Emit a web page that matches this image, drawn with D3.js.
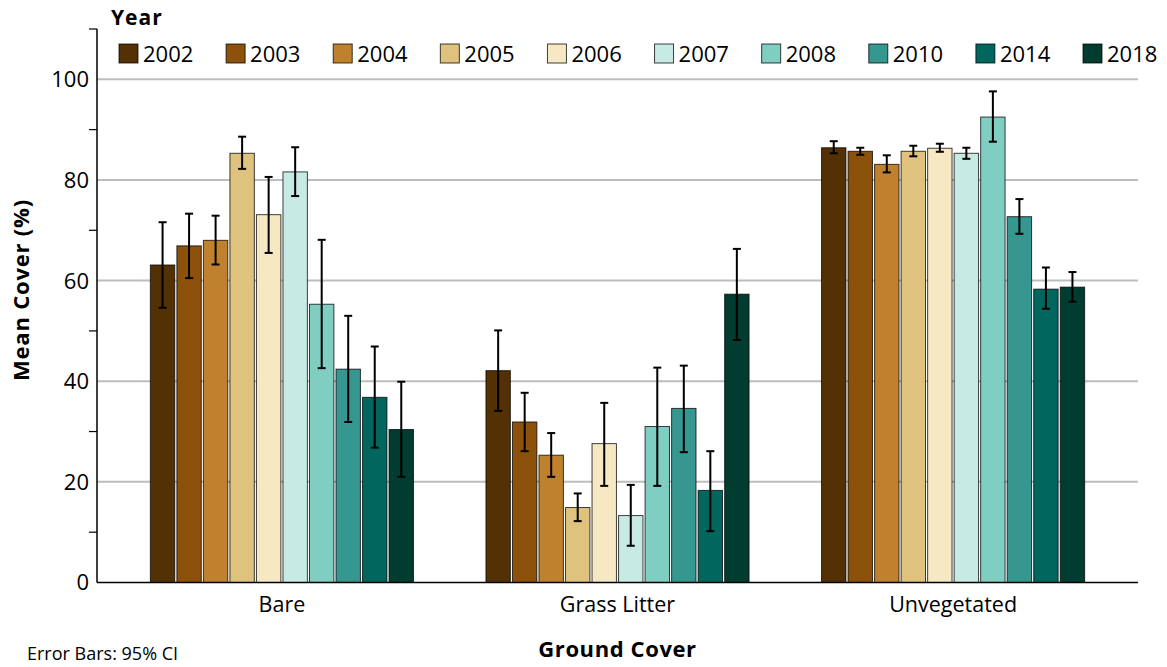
<!DOCTYPE html>
<html>
<head>
<meta charset="utf-8">
<script src="https://cdn.jsdelivr.net/npm/d3@7"></script>
<style>
  html, body { margin: 0; padding: 0; background: #fff; }
  svg { display: block; font-family: "Open Sans", "Noto Sans", sans-serif; }
</style>
</head>
<body>
<svg id="chart" width="1167" height="667"></svg>
<script>
// Ground cover categories and survey years
const categories = ["Bare", "Grass Litter", "Unvegetated"];
const years = ["2002", "2003", "2004", "2005", "2006", "2007", "2008", "2010", "2014", "2018"];
const yearColors = ["#543005", "#8c510a", "#bf812d", "#dfc27d", "#f6e8c3",
                    "#c7eae5", "#80cdc1", "#35978f", "#01665e", "#003c30"];

// Mean cover (%) per year, one array per ground cover category
const bareMean        = [63.1, 66.9, 68.0, 85.3, 73.1, 81.6, 55.3, 42.4, 36.8, 30.4];
const grassLitterMean = [42.1, 31.9, 25.3, 14.9, 27.6, 13.3, 31.0, 34.6, 18.3, 57.3];
const unvegetatedMean = [86.4, 85.7, 83.1, 85.7, 86.3, 85.3, 92.5, 72.7, 58.3, 58.7];

// 95% confidence interval bounds
const bareLow         = [54.6, 60.5, 63.2, 82.2, 65.5, 76.8, 42.6, 31.9, 26.8, 21.0];
const bareHigh        = [71.6, 73.3, 72.9, 88.6, 80.6, 86.5, 68.1, 53.0, 46.9, 39.9];
const grassLitterLow  = [34.1, 26.1, 21.0, 12.2, 19.2,  7.3, 19.2, 25.9, 10.2, 48.2];
const grassLitterHigh = [50.1, 37.7, 29.7, 17.7, 35.7, 19.4, 42.7, 43.1, 26.1, 66.3];
const unvegetatedLow  = [85.3, 85.0, 81.5, 84.7, 85.6, 84.2, 87.6, 69.3, 54.4, 55.8];
const unvegetatedHigh = [87.7, 86.4, 84.9, 86.8, 87.2, 86.4, 97.6, 76.2, 62.6, 61.7];

const yTickLabels = [0, 20, 40, 60, 80, 100];
const yMinorTicks = [10, 30, 50, 70, 90, 110];

const means = [bareMean, grassLitterMean, unvegetatedMean];
const lows = [bareLow, grassLitterLow, unvegetatedLow];
const highs = [bareHigh, grassLitterHigh, unvegetatedHigh];

const rows = [];
categories.forEach((c, ci) => {
  years.forEach((yr, yi) => {
    rows.push({ category: c, year: yr, mean: means[ci][yi], low: lows[ci][yi], high: highs[ci][yi] });
  });
});

const svg = d3.select("#chart");
const plot = { left: 97, right: 1138, top: 29, bottom: 582.5 };

const x0 = d3.scaleBand().domain(categories)
  .range([plot.left, plot.right]).paddingInner(0.216).paddingOuter(0.159);
const x1 = d3.scaleBand().domain(years)
  .range([0, x0.bandwidth()]).paddingInner(0.08).paddingOuter(0);
const y = d3.scaleLinear().domain([0, 110]).range([plot.bottom, plot.top]);
const color = d3.scaleOrdinal().domain(years).range(yearColors);

// Gridlines at labelled ticks
svg.append("g").selectAll("line")
  .data(yTickLabels.filter(d => d > 0))
  .join("line")
  .attr("x1", plot.left).attr("x2", plot.right)
  .attr("y1", d => y(d)).attr("y2", d => y(d))
  .attr("stroke", "#bdbdbd").attr("stroke-width", 2);

// Y axis: labelled ticks without marks, minor ticks with marks
const yAxis = svg.append("g").attr("transform", `translate(${plot.left},0)`);
yAxis.append("line")
  .attr("x1", 0).attr("x2", 0).attr("y1", plot.top).attr("y2", plot.bottom)
  .attr("stroke", "#000").attr("stroke-width", 1.5);
yAxis.selectAll("line.minor").data(yMinorTicks).join("line")
  .attr("class", "minor")
  .attr("x1", -8).attr("x2", 0)
  .attr("y1", d => y(d)).attr("y2", d => y(d))
  .attr("stroke", "#000").attr("stroke-width", 1.2);
yAxis.selectAll("text").data(yTickLabels).join("text")
  .attr("x", -8).attr("y", d => y(d)).attr("dy", "0.36em")
  .attr("text-anchor", "end")
  .attr("font-size", 22).attr("fill", "#000")
  .text(d => d);

// Bars
const groups = svg.append("g").selectAll("g")
  .data(categories).join("g")
  .attr("transform", d => `translate(${x0(d)},0)`);

groups.selectAll("rect")
  .data(c => rows.filter(r => r.category === c))
  .join("rect")
  .attr("x", d => x1(d.year))
  .attr("y", d => y(d.mean))
  .attr("width", x1.bandwidth())
  .attr("height", d => y(0) - y(d.mean))
  .attr("fill", d => color(d.year))
  .attr("stroke", "rgba(0,0,0,0.75)")
  .attr("stroke-width", 1);

// Error bars (95% CI)
const capHalf = 4;
const eb = groups.selectAll("g.err")
  .data(c => rows.filter(r => r.category === c))
  .join("g").attr("class", "err")
  .attr("stroke", "#000").attr("stroke-width", 2);
eb.append("line")
  .attr("x1", d => x1(d.year) + x1.bandwidth() / 2)
  .attr("x2", d => x1(d.year) + x1.bandwidth() / 2)
  .attr("y1", d => y(d.low)).attr("y2", d => y(d.high));
eb.append("line")
  .attr("x1", d => x1(d.year) + x1.bandwidth() / 2 - capHalf)
  .attr("x2", d => x1(d.year) + x1.bandwidth() / 2 + capHalf)
  .attr("y1", d => y(d.high)).attr("y2", d => y(d.high));
eb.append("line")
  .attr("x1", d => x1(d.year) + x1.bandwidth() / 2 - capHalf)
  .attr("x2", d => x1(d.year) + x1.bandwidth() / 2 + capHalf)
  .attr("y1", d => y(d.low)).attr("y2", d => y(d.low));

// X axis baseline and category labels
svg.append("line")
  .attr("x1", plot.left).attr("x2", plot.right)
  .attr("y1", y(0)).attr("y2", y(0))
  .attr("stroke", "#000").attr("stroke-width", 1.5);
svg.append("g").selectAll("text").data(categories).join("text")
  .attr("x", d => x0(d) + x0.bandwidth() / 2)
  .attr("y", 612)
  .attr("text-anchor", "middle")
  .attr("font-size", 21.5).attr("fill", "#000")
  .text(d => d);

// Axis titles
svg.append("text")
  .attr("transform", `translate(29,290) rotate(-90)`)
  .attr("text-anchor", "middle")
  .attr("font-size", 22).attr("font-weight", "bold")
  .attr("letter-spacing", 0.8)
  .text("Mean Cover (%)");
svg.append("text")
  .attr("x", x0("Grass Litter") + x0.bandwidth() / 2).attr("y", 657)
  .attr("text-anchor", "middle")
  .attr("font-size", 22).attr("font-weight", "bold")
  .attr("letter-spacing", 0.6)
  .text("Ground Cover");
svg.append("text")
  .attr("x", 27).attr("y", 660)
  .attr("font-size", 18)
  .text("Error Bars: 95% CI");

// Legend
svg.append("text")
  .attr("x", 111).attr("y", 25)
  .attr("font-size", 21).attr("font-weight", "bold")
  .attr("letter-spacing", 1)
  .text("Year");
const legendX = d3.scalePoint().domain(years).range([119, 1083]);
const legend = svg.append("g").selectAll("g").data(years).join("g")
  .attr("transform", d => `translate(${legendX(d)},44)`);
legend.append("rect")
  .attr("width", 19).attr("height", 19)
  .attr("fill", d => color(d))
  .attr("stroke", "rgba(0,0,0,0.75)").attr("stroke-width", 1);
legend.append("text")
  .attr("x", 24).attr("y", 10).attr("dy", "0.36em")
  .attr("font-size", 22)
  .text(d => d);
</script>
</body>
</html>
